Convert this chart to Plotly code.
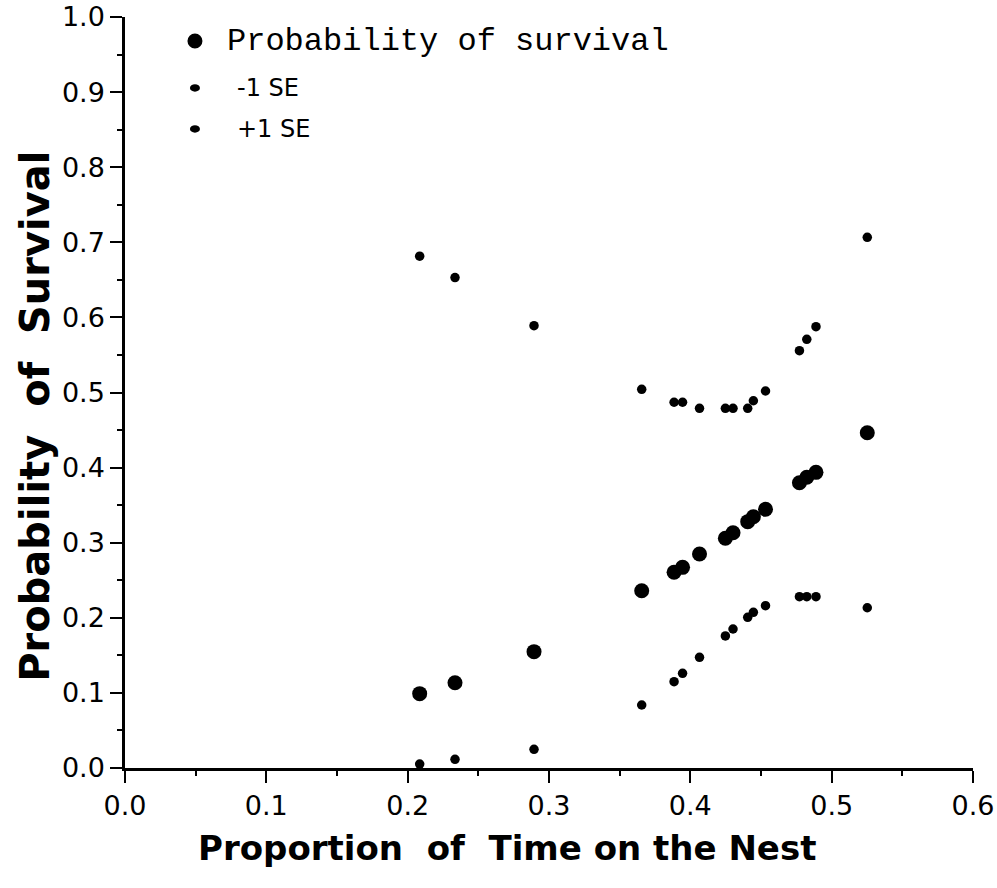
import plotly.graph_objects as go

# Proportion of time on the nest (x) shared by all three series
x_time = [0.2085, 0.2335, 0.2894, 0.3656, 0.3885, 0.3945, 0.4065, 0.4248,
          0.4302, 0.4406, 0.4446, 0.4532, 0.4772, 0.4824, 0.4889, 0.5252]
# Probability of survival
p_surv = [0.0990, 0.1136, 0.1549, 0.2361, 0.2606, 0.2672, 0.2850, 0.3059,
          0.3133, 0.3280, 0.3346, 0.3445, 0.3799, 0.3871, 0.3937, 0.4465]
# -1 SE
p_minus = [0.0053, 0.0116, 0.0249, 0.0839, 0.1149, 0.1261, 0.1474, 0.1758,
           0.1851, 0.2007, 0.2073, 0.2161, 0.2281, 0.2281, 0.2281, 0.2134]
# +1 SE
p_plus = [0.6815, 0.6530, 0.5890, 0.5043, 0.4870, 0.4870, 0.4790, 0.4790,
          0.4790, 0.4790, 0.4890, 0.5020, 0.5557, 0.5708, 0.5876, 0.7067]

x_ticks = [0.0, 0.1, 0.2, 0.3, 0.4, 0.5, 0.6]
y_ticks = [0.0, 0.1, 0.2, 0.3, 0.4, 0.5, 0.6, 0.7, 0.8, 0.9, 1.0]

fig = go.Figure()
fig.add_trace(go.Scatter(x=x_time, y=p_surv, mode="markers", name="Probability of survival",
                         marker=dict(size=15, color="black"), cliponaxis=False))
fig.add_trace(go.Scatter(x=x_time, y=p_minus, mode="markers", name="-1 SE",
                         marker=dict(size=9.5, color="black"), cliponaxis=False))
fig.add_trace(go.Scatter(x=x_time, y=p_plus, mode="markers", name="+1 SE",
                         marker=dict(size=9.5, color="black"), cliponaxis=False))

# legend drawn manually (markers as shapes, labels as annotations)
legend_items = [
    ("Probability of survival", 0.968, 15, 15, 0.1179, "Liberation Mono", 32),
    ("-1 SE", 0.9055, 10, 7.5, 0.1297, "DejaVu Sans", 24),
    ("+1 SE", 0.851, 10, 7.5, 0.1297, "DejaVu Sans", 24),
]
for text, yp, w, h, xt, fam, fs in legend_items:
    fig.add_shape(type="circle", xref="paper", yref="paper", xsizemode="pixel", ysizemode="pixel",
                  xanchor=0.0825, yanchor=yp, x0=-w / 2, x1=w / 2, y0=-h / 2, y1=h / 2,
                  fillcolor="black", line=dict(width=0))
    fig.add_annotation(text=text, xref="paper", yref="paper", x=xt, y=yp, xanchor="left",
                       yanchor="middle", showarrow=False, font=dict(family=fam, size=fs, color="black"))

fig.add_annotation(text="<b>Proportion  of  Time on the Nest</b>", xref="paper", yref="paper",
                   x=0.4505, y=-0.107, xanchor="center", yanchor="middle", showarrow=False,
                   font=dict(family="DejaVu Sans", size=34, color="black"))
fig.add_annotation(text="<b>Probability  of  Survival</b>", xref="paper", yref="paper",
                   x=-0.107, y=0.468, xanchor="center", yanchor="middle", showarrow=False,
                   font=dict(family="DejaVu Sans", size=40, color="black"), textangle=-90)

axis_common = dict(showgrid=False, zeroline=False, showline=True, linecolor="black",
                   ticks="outside", tickcolor="black", ticklen=12, tickwidth=2, automargin=False,
                   tickfont=dict(family="DejaVu Sans", size=27, color="black"),
                   minor=dict(ticks="outside", ticklen=5, tickwidth=2, tickcolor="black", dtick=0.05))
fig.update_xaxes(range=[0, 0.6], tickvals=x_ticks, ticktext=[f"{v:.1f}" for v in x_ticks],
                 linewidth=3, **axis_common)
fig.update_yaxes(range=[0, 1.0], tickvals=y_ticks, ticktext=[f"{v:.1f}" for v in y_ticks],
                 linewidth=2.5, **axis_common)

fig.update_layout(width=997, height=888, margin=dict(l=125, r=24, t=17, b=120),
                  plot_bgcolor="white", paper_bgcolor="white", showlegend=False,
                  font=dict(family="DejaVu Sans", color="black"))
fig.write_html("out.html")
